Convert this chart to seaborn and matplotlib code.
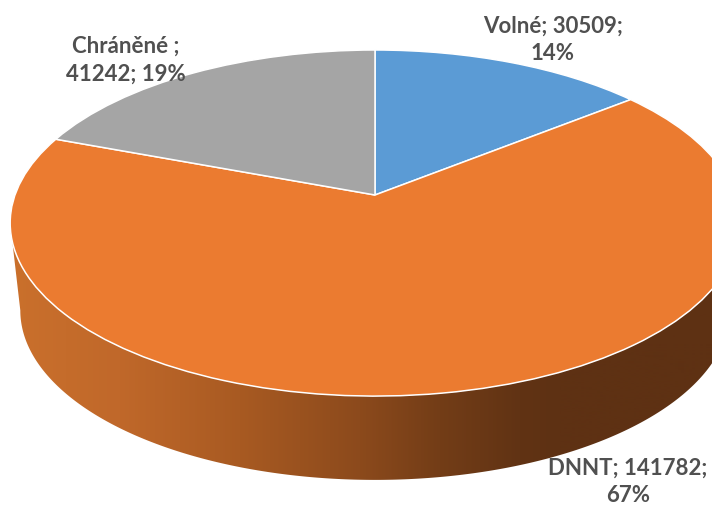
import numpy as np
import matplotlib
matplotlib.use('Agg')
import matplotlib.pyplot as plt
import seaborn as sns
from matplotlib.path import Path
from matplotlib.transforms import Transform

names = ['Volné', 'DNNT', 'Chráněné']
values = [30509, 141782, 41242]
percents = [14, 67, 19]
colors = ['#5B9BD5', '#EB7B30', '#A5A5A5']

sns.set_theme(style='white')
plt.rcParams['font.family'] = ['Lato', 'DejaVu Sans']


# kruh -> elipsa s perspektivou (zadni cast je mensi)
class Tilt(Transform):
    input_dims = 2
    output_dims = 2

    def __init__(self, cx, cy, a, b, k):
        super().__init__()
        self.p = (cx, cy, a, b, k)

    def transform_non_affine(self, xy):
        cx, cy, a, b, k = self.p
        xy = np.asarray(xy, dtype=float)
        w = 1 + k * xy[:, 1]
        return np.column_stack([cx + a * xy[:, 0] / w, cy - b * xy[:, 1] / w])


K = 0.162
top = Tilt(375, 195, 360, 168.5, K)
bottom = Tilt(375, 283, 350, 165, K)

fig = plt.figure(figsize=(7.12, 5.05), dpi=100)
ax = fig.add_axes([0, 0, 1, 1])

wedges, _ = ax.pie(values, colors=colors, startangle=90, counterclock=False,
                   wedgeprops={'edgecolor': 'white', 'linewidth': 1.1, 'zorder': 3})
for w in wedges:
    w.set_transform(top + ax.transData)

# bocni stena - od leveho okraje pres predek k pravemu
start = np.pi + np.arcsin(K)
t = np.linspace(start, 2 * np.pi - np.arcsin(K), 300)
circle = np.column_stack([np.cos(t), np.sin(t)])
outline = np.vstack([top.transform(circle), bottom.transform(circle)[::-1]])
side_path = Path(np.vstack([outline, outline[:1]]), closed=True)

stops_x = [12, 120, 240, 360, 440, 520, 560, 712]
stops_c = ['#CA702C', '#C0682A', '#A85A22', '#8C4A1C', '#733D17', '#613314', '#5E3113', '#5E3113']
rgb = np.array([matplotlib.colors.to_rgb(c) for c in stops_c])
xs = np.arange(0, 713)
grad = np.stack([np.interp(xs, stops_x, rgb[:, i]) for i in range(3)], axis=1)[None, :, :]
im = ax.imshow(grad, extent=(0, 712, 490, 200), aspect='auto', zorder=1)
im.set_clip_path(side_path, ax.transData)

ax.set_aspect('auto')
ax.set_xlim(0, 712)
ax.set_ylim(505, 0)
ax.axis('off')

labels = [f'{names[0]}; {values[0]};\n{percents[0]}%',
          f'{names[1]}; {values[1]};\n{percents[1]}%',
          f'{names[2]} ;\n{values[2]}; {percents[2]}%']
label_pos = [(553, 40), (628, 482), (126, 60)]
for s, (x, y) in zip(labels, label_pos):
    ax.text(x, y, s, ha='center', va='center', fontsize=16, fontweight='bold',
            color='#505050', linespacing=1.38, zorder=5)

fig.savefig('out.png', dpi=100)
